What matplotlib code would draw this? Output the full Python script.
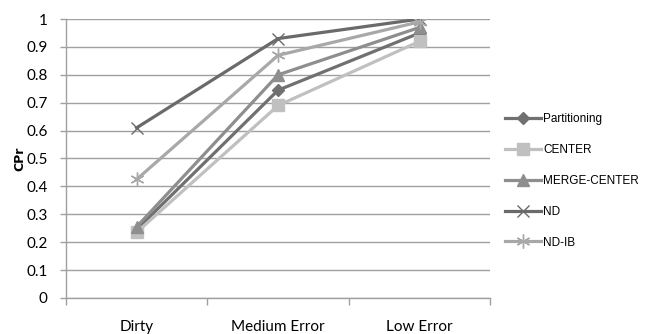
import numpy as np
import matplotlib
matplotlib.use('Agg')
import matplotlib.pyplot as plt

# CPr per data quality level
levels = ['Dirty', 'Medium Error', 'Low Error']
partitioning = [0.245, 0.745, 0.95]
center = [0.235, 0.69, 0.92]
merge_center = [0.255, 0.80, 0.97]
nd = [0.61, 0.93, 1.0]
nd_ib = [0.425, 0.87, 0.99]

series = [
    ('Partitioning', partitioning, '#707070', 'D', 6.5),
    ('CENTER', center, '#c0c0c0', 's', 8),
    ('MERGE-CENTER', merge_center, '#8e8e8e', '^', 8),
    ('ND', nd, '#6a6a6a', 'x', 9),
    ('ND-IB', nd_ib, '#a8a8a8', (6, 2, 0), 10),
]

fig = plt.figure(figsize=(6.46, 3.34), dpi=100)
ax = fig.add_axes([0.102, 0.108, 0.657, 0.835])

x = np.arange(len(levels)) + 0.5
for name, vals, col, mk, ms in series:
    ax.plot(x, vals, color=col, lw=2.3, marker=mk, markersize=ms,
            markeredgecolor=col, markerfacecolor=col, markeredgewidth=1.0,
            label=name, zorder=3)

ax.set_xlim(0, 3)
ax.set_ylim(0, 1)
ax.set_yticks(np.arange(0, 1.01, 0.1))
ax.set_yticklabels(['0', '0.1', '0.2', '0.3', '0.4', '0.5', '0.6', '0.7',
                    '0.8', '0.9', '1'], fontfamily='Lato', fontsize=11)
ax.set_xticks(x)
ax.set_xticklabels(levels, fontfamily='Lato', fontsize=11)
ax.set_xticks([0, 1, 2, 3], minor=True)
ax.tick_params(axis='x', which='major', length=0, pad=16)
ax.tick_params(axis='x', which='minor', length=5, color='#a0a0a0', width=1)
ax.tick_params(axis='y', length=4, color='#a0a0a0', width=1, pad=9)

ax.grid(axis='y', color='#a0a0a0', lw=1)
ax.set_axisbelow(True)
for s in ['top', 'right']:
    ax.spines[s].set_visible(False)
for s in ['left', 'bottom']:
    ax.spines[s].set_color('#a0a0a0')
    ax.spines[s].set_linewidth(1)

ax.set_ylabel('CPr', fontsize=9, fontweight='bold', labelpad=0)

ax.legend(loc='center left', bbox_to_anchor=(1.01, 0.42), frameon=False,
          prop={'family': 'Liberation Sans', 'size': 8.5},
          handlelength=3.0, labelspacing=1.6, handletextpad=0.2)

fig.savefig('out.png', dpi=100)
